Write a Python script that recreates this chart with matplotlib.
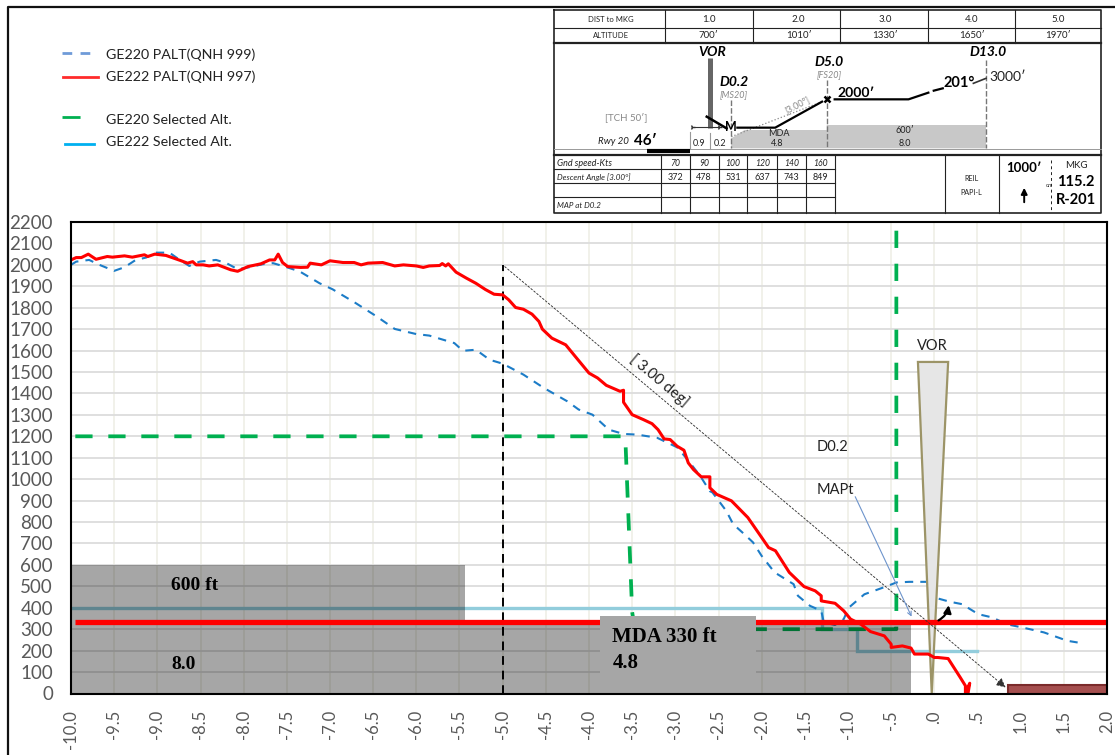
import numpy as np
import matplotlib.pyplot as plt
from matplotlib.patches import Rectangle, Polygon

plt.rcParams['font.family'] = ['Lato', 'DejaVu Sans']

#-------------- data
ge222_x = [-10,-9.94,-9.88,-9.8,-9.71,-9.58,-9.52,-9.38,-9.29,-9.15,-9.11,-9.03,-8.9,-8.73,-8.65,-8.59,-8.55,-8.47,-8.4,-8.3,
           -8.15,-8.07,-7.95,-7.8,-7.7,-7.64,-7.6,-7.55,-7.49,-7.34,-7.26,-7.23,-7.1,-7.0,-6.85,-6.72,-6.64,-6.56,-6.39,-6.25,
           -6.15,-6.0,-5.92,-5.85,-5.73,-5.7,-5.66,-5.63,-5.54,-5.42,-5.31,-5.2,-5.1,-5.0,-4.93,-4.85,-4.76,-4.66,-4.58,-4.54,
           -4.43,-4.27,-4.16,-4.0,-3.9,-3.8,-3.64,-3.6,-3.6,-3.5,-3.37,-3.27,-3.2,-3.13,-3.06,-2.98,-2.9,-2.85,-2.79,-2.7,
           -2.6,-2.6,-2.52,-2.35,-2.16,-2.0,-1.92,-1.84,-1.68,-1.51,-1.38,-1.31,-1.31,-1.15,-1.05,-0.97,-0.85,-0.74,-0.58,-0.5,
           -0.5,-0.37,-0.27,-0.23,-0.07,0,0.04,0.16,0.3,0.36,0.36,0.41,0.39]
ge222_y = [2023,2034,2034,2050,2026,2039,2036,2042,2036,2047,2039,2050,2044,2020,2008,2015,2000,2000,1995,2000,
           1977,1970,1992,2005,2023,2023,2050,2011,1992,1988,1989,2008,2000,2019,2011,2011,2000,2008,2011,1995,
           2000,1995,1988,1995,1997,2006,1995,2005,1966,1938,1914,1885,1863,1860,1837,1801,1793,1770,1736,1700,
           1658,1627,1573,1495,1472,1438,1410,1415,1359,1301,1278,1259,1231,1188,1185,1154,1135,1076,1045,1011,
           1011,960,929,899,821,728,681,666,565,499,479,456,432,421,386,347,323,289,269,230,
           215,222,212,184,184,168,168,163,75,36,0,48,0]
ge220_x = [-10,-9.94,-9.79,-9.67,-9.5,-9.38,-9.25,-9.13,-9.03,-8.86,-8.74,-8.63,-8.51,-8.32,-8.2,-8.07,-7.93,-7.78,-7.66,-7.5,
           -7.35,-7.12,-6.97,-6.7,-6.47,-6.25,-6.0,-5.85,-5.56,-5.46,-5.31,-5.15,-5.0,-4.76,-4.52,-4.25,-4.12,-3.96,-3.77,-3.6,
           -3.44,-3.21,-2.98,-2.86,-2.71,-2.6,-2.57,-2.41,-2.33,-2.2,-2.1,-2.0,-1.85,-1.63,-1.58,-1.44,-1.31,-1.28,-1.15,-1.05,
           -0.99,-0.81,-0.56,-0.44,-0.29,-0.07,0,0,0.18,0.32,0.51,0.67,0.84,1.02,1.27,1.54,1.66]
ge220_y = [2000,2015,2023,2000,1972,1989,2023,2034,2057,2057,2023,1995,2015,2023,2008,1980,1989,2003,2008,1989,
           1969,1914,1886,1821,1762,1701,1677,1670,1635,1599,1604,1557,1539,1488,1425,1363,1325,1301,1231,1211,
           1208,1193,1149,1092,1014,944,938,852,790,743,705,642,565,510,456,409,386,331,320,347,
           401,463,499,518,521,521,495,448,428,417,370,355,323,308,285,246,238]
sel220_x = [-9.95,-3.58,-3.5,-3.47,-0.44,-0.44]
sel220_y = [1200,1200,380,300,300,2160]
sel222_x = [-10,-1.3,-1.3,-0.9,-0.9,0.5]
sel222_y = [400,400,300,300,200,200]
mda_x = [-9.95,2.0]
mda_y = [333,333]
glide_x = [-5.0,0.85]
glide_y = [2000,20]
vor_x = [-0.19,0.16,-0.03]
vor_y = [1547,1547,0]
mapt_x = [-0.93,-0.25]
mapt_y = [930,347]

yticks = np.arange(0,2201,100)
xticks = np.arange(-10,2.01,0.5)
xlabels = ['-10.0','-9.5','-9.0','-8.5','-8.0','-7.5','-7.0','-6.5','-6.0','-5.5','-5.0','-4.5','-4.0',
           '-3.5','-3.0','-2.5','-2.0','-1.5','-1.0','-.5','.0','.5','1.0','1.5','2.0']

dist_labels = ['1.0','2.0','3.0','4.0','5.0']
alt_labels = ["700′","1010′","1330′","1650′","1970′"]
gnd_speed = ['70','90','100','120','140','160']
descent = ['372','478','531','637','743','849']

#-------------- figure
W,H = 1115,755
fig = plt.figure(figsize=(W/100,H/100),dpi=100,facecolor='white')
ax = fig.add_axes([71/W,1-693.5/H,(1107-71)/W,(693.5-222)/H])
ax.set(xlim=(-10,2),ylim=(0,2200))
ax.set_yticks(yticks)
ax.set_xticks(xticks)
ax.set_xticklabels(xlabels,rotation=90)
ax.tick_params(axis='y',length=0,pad=13,labelsize=13.5,labelcolor='#595959')
ax.tick_params(axis='x',length=0,pad=12,labelsize=12,labelcolor='#595959')
ax.grid(axis='y',color='#dcdcdc',lw=1.3)
ax.grid(axis='x',color='#eeeee4',lw=1.1)
ax.set_axisbelow(True)
for s in ax.spines.values():
    s.set_linewidth(1.5)
    s.set_color('black')
    s.set_zorder(12)

# selected altitudes and ge220 sit under the grey boxes
ax.plot(sel222_x,sel222_y,color='#92cddc',lw=2.4,zorder=2,solid_joinstyle='miter')
ax.plot(sel220_x,sel220_y,color='#00b050',lw=2.7,dashes=(4.6,4.2),zorder=2)
ax.plot(ge220_x,ge220_y,color='#1c7cc7',lw=1.5,dashes=(4,3.4),zorder=3)
ax.plot([-5,-5],[0,2000],color='black',lw=1.4,dashes=(4.5,3),zorder=3)

ax.add_patch(Rectangle((-10,0),4.56,600,color='black',alpha=0.35,lw=0,zorder=4))
ax.add_patch(Rectangle((-5.44,0),5.17,340,color='black',alpha=0.35,lw=0,zorder=4))
ax.add_patch(Rectangle((-3.87,0),1.8,362,color='#a6a6a6',lw=0,zorder=6))
ax.add_patch(Rectangle((0.85,0),1.15,40,facecolor='#a54f4f',edgecolor='#7b2b2b',lw=1.5,zorder=5))
ax.add_patch(Polygon(np.column_stack([vor_x,vor_y]),closed=True,facecolor='#e6e6e6',edgecolor='#9c9467',lw=1.6,zorder=5))

ax.plot(mda_x,mda_y,color='#ff0000',lw=3.8,zorder=5,solid_capstyle='butt')
ax.plot(ge222_x,ge222_y,color='#ff0000',lw=2.2,zorder=7,solid_joinstyle='round')

ax.annotate('',xy=(glide_x[1],glide_y[1]),xytext=(glide_x[0],glide_y[0]),zorder=8,
            arrowprops=dict(arrowstyle='-|>',color='#333333',lw=0.65,ls=(0,(2,2.2)),mutation_scale=14))
ax.annotate('',xy=(mapt_x[1],mapt_y[1]),xytext=(mapt_x[0],mapt_y[0]),zorder=8,
            arrowprops=dict(arrowstyle='->',color='#6d94cc',lw=0.8,mutation_scale=7))
ax.annotate('',xy=(0.17,425),xytext=(0.02,335),zorder=8,
            arrowprops=dict(arrowstyle='-|>',color='black',lw=1.6,mutation_scale=11,connectionstyle='arc3,rad=0.3'))

ser = ['Liberation Serif','DejaVu Serif']
ax.text(-8.84,502,'600 ft',family=ser,weight='bold',fontsize=14,va='center',color='black',zorder=9)
ax.text(-8.84,133,'8.0',family=ser,weight='bold',fontsize=14,va='center',color='black',zorder=9)
ax.text(-3.73,265,'MDA 330 ft',family=ser,weight='bold',fontsize=15,va='center',color='black',zorder=9)
ax.text(-3.73,140,'4.8',family=ser,weight='bold',fontsize=15,va='center',color='black',zorder=9)
ax.text(-0.02,1620,'VOR',ha='center',va='center',fontsize=10.5,color='#222222',zorder=9)
ax.text(-1.36,1150,'D0.2',va='center',fontsize=10.5,color='#222222',zorder=9)
ax.text(-1.36,950,'MAPt',va='center',fontsize=10.5,color='#222222',zorder=9)
ax.text(-3.18,1462,'[ 3.00 deg]',ha='center',va='center',rotation=-40,rotation_mode='anchor',fontsize=11,color='#222222',zorder=9)

#-------------- overlay in pixels: frame and legend
ov = fig.add_axes([0,0,1,1],facecolor='none')
ov.set(xlim=(0,W),ylim=(H,0))
ov.axis('off')
ov.plot([8,8,W],[H,7,7],color='#111111',lw=1.6)
ov.plot([62,95],[53,53],color='#6f9bd8',lw=2,dashes=(3.5,3))
ov.plot([63,98],[77,77],color='#ff2b2b',lw=2)
ov.plot([62,94],[117,117],color='#00b050',lw=2,dashes=(6.5,5.5))
ov.plot([65,94],[144,144],color='#00b0f0',lw=2)
for yy,tt in zip([54,76,120,142],['GE220 PALT(QNH 999)','GE222 PALT(QNH 997)','GE220 Selected Alt.','GE222 Selected Alt.']):
    ov.text(106,yy+0.5,tt,va='center',fontsize=10.3,color='#222222')

#-------------- approach plate, coordinates as measured on the plate picture
pl = fig.add_axes([550/W,1-220/H,565/W,220/H],facecolor='none')
pl.set(xlim=(0,1568),ylim=(660,0))
pl.axis('off')
def hv(xs,ys,lw=0.8,c='#222222',**kw):
    pl.plot(xs,ys,color=c,lw=lw,**kw)
def tx(x,y,s,fs=6,**kw):
    kw.setdefault('color','#222222')
    pl.text(x,y,s,ha='center',va='center',fontsize=fs,**kw)

pl.add_patch(Polygon([(503,445),(503,415),(540,390),(768,390),(768,375),(1210,375),(1210,445)],facecolor='#c8c8c8',lw=0))
hv([12,1530,1530,12,12],[30,30,638,638,30],1.2)
hv([12,1530],[85,85])
hv([12,1530],[130,130],1.6)
hv([12,1530],[465,465],1.6)
hv([12,1530],[447,447],0.7,'#999999')
for xx in [320,563,805,1048,1290]:
    hv([xx,xx],[30,130])
tx(170,60,'DIST to MKG',5.5)
tx(170,105,'ALTITUDE',5.5)
for xx,d,a in zip([440,690,930,1170,1410],dist_labels,alt_labels):
    tx(xx,60,d,7)
    tx(xx,105,a,7)

# profile
hv([443,443],[175,385],3.6,'#666666',solid_capstyle='butt')
for xx,y0 in [(503,300),(768,240),(1210,180)]:
    hv([xx,xx],[y0,445],1,'#777777',dashes=(4,1.5))
hv([388,388],[395,447],0.8,'#999999')
hv([445,445],[400,447],0.8,'#999999')
hv([268,388],[453,453],3,'black',solid_capstyle='butt')
hv([503,755],[410,305],0.9,'#888888',ls=':')
hv([435,490],[350,385],1.8,'black')
hv([520,625,755],[383,383,305],1.6,'black')
hv([790,995,1050],[298,298,278],1.6,'black')
hv([1065,1090],[272,265],1.6,'black')
hv([1175,1210],[250,235],1.2,'#333333')
hv([395,470],[380,380],0.8,'#333333',marker='4',ms=4)
pl.plot([768],[298],marker='x',color='black',ms=5,mew=1.8,ls='')
tx(503,382,'M',9,weight='bold',color='black')
tx(450,155,'VOR',10,weight='bold',style='italic',color='black')
tx(1215,155,'D13.0',10,weight='bold',style='italic',color='black')
tx(775,187,'D5.0',10,weight='bold',style='italic',color='black')
tx(775,225,'[FS20]',6.5,style='italic',color='#888888')
tx(512,245,'D0.2',10,weight='bold',style='italic',color='black')
tx(510,283,'[MS20]',6.5,style='italic',color='#888888')
tx(685,315,'[3.00°]',6.5,rotation=28,color='#888888')
tx(212,352,"[TCH 50′]",7,color='#888888')
tx(175,425,'Rwy 20',7,style='italic')
tx(265,422,"46′",11,weight='bold',color='black')
tx(415,432,'0.9',6.5)
tx(473,432,'0.2',6.5)
tx(635,402,'MDA',6.5)
tx(630,431,'4.8',6.5)
tx(985,392,"600′",6.5)
tx(985,431,'8.0',6.5)
tx(850,280,"2000′",10,weight='bold',color='black')
tx(1135,250,'201°',10.5,weight='bold',color='black')
tx(1270,230,"3000′",10)

# lower table
hv([12,790],[508,508])
hv([12,790],[548,548])
hv([12,790],[592,592])
for xx in [308,388,468,548,630,710,790,1095,1245]:
    hv([xx,xx],[465,638])
hv([1390,1390],[480,635],0.7,dashes=(3,3))
pl.text(20,490,'Gnd speed-Kts',fontsize=6.5,style='italic',va='center',color='#222222')
pl.text(20,531,'Descent Angle [3.00°]',fontsize=5.8,style='italic',va='center',color='#222222')
pl.text(20,616,'MAP at D0.2',fontsize=5.8,style='italic',va='center',color='#222222')
for xx,g,d in zip([348,428,508,589,670,750],gnd_speed,descent):
    tx(xx,490,g,6.2,style='italic')
    tx(xx,531,d,6.5)
tx(1170,535,'REIL',5.2)
tx(1170,578,'PAPI-L',5.2)
tx(1315,505,"1000′",9.5,weight='bold',color='black')
pl.annotate('',xy=(1316,555),xytext=(1316,615),arrowprops=dict(arrowstyle='-|>',color='black',lw=1.4,mutation_scale=9))
tx(1462,497,'MKG',7)
tx(1385,557,'on',4)
tx(1460,545,'115.2',10.5,weight='bold',color='black')
tx(1460,600,'R-201',10.5,weight='bold',color='black')

fig.savefig('out.png',dpi=100,facecolor='white')
